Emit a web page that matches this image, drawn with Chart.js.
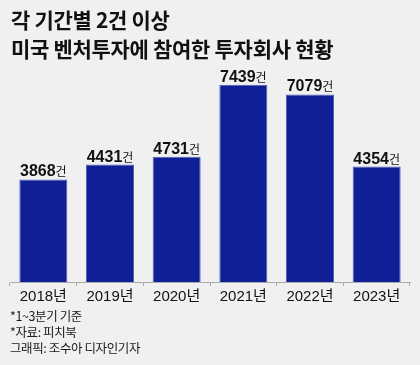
<!DOCTYPE html>
<html>
<head>
<meta charset="utf-8">
<script src="https://cdn.jsdelivr.net/npm/chart.js@4"></script>
<style>
    html, body { margin: 0; padding: 0; background: #f0f0f0; }
    #wrap { position: relative; width: 420px; height: 365px; overflow: hidden; }
    #chart { position: absolute; left: 0; top: 0; }
    .title { position: absolute; left: 11px; font-family: "Noto Sans CJK KR", sans-serif; font-weight: bold; font-size: 21px; color: #111; letter-spacing: -0.3px; line-height: 1; }
    .note { position: absolute; left: 10px; font-family: "Noto Sans CJK KR", sans-serif; font-size: 12.5px; color: #1a1a1a; letter-spacing: -0.4px; line-height: 1; }
</style>
</head>
<body>
<div id="wrap">
    <canvas id="chart" width="420" height="365"></canvas>
    <div class="title" style="top:9px">각 기간별 2건 이상</div>
    <div class="title" style="top:38px">미국 벤처투자에 참여한 투자회사 현황</div>
    <div class="note" style="top:310px">*1~3분기 기준</div>
    <div class="note" style="top:326px">*자료: 피치북</div>
    <div class="note" style="top:342px">그래픽: 조수아 디자인기자</div>
</div>
<script>
var years = ['2018년', '2019년', '2020년', '2021년', '2022년', '2023년'];
var counts = [3868, 4431, 4731, 7439, 7079, 4354];
var unit = '건';

// 막대 위 값 표시 (숫자 굵게 + '건' 작게)
var valueLabels = {
    id: 'valueLabels',
    afterDatasetsDraw: function (chart) {
        var ctx = chart.ctx;
        var meta = chart.getDatasetMeta(0);
        ctx.save();
        ctx.fillStyle = '#111';
        ctx.textBaseline = 'alphabetic';
        for (var i = 0; i < meta.data.length; i++) {
            var bar = meta.data[i];
            var num = String(counts[i]);
            ctx.font = 'bold 16px "Liberation Sans Narrow", "Liberation Sans", sans-serif';
            var w1 = ctx.measureText(num).width;
            ctx.font = '12px "Noto Sans CJK KR", sans-serif';
            var w2 = ctx.measureText(unit).width;
            var x0 = bar.x - (w1 + w2) / 2;
            var y = bar.y - 3;
            ctx.font = 'bold 16px "Liberation Sans Narrow", "Liberation Sans", sans-serif';
            ctx.fillText(num, x0, y);
            ctx.font = '12px "Noto Sans CJK KR", sans-serif';
            ctx.fillText(unit, x0 + w1, y);
        }
        ctx.restore();
    }
};

var ctx = document.getElementById('chart');
var chart = new Chart(ctx, {
    type: 'bar',
    data: {
        labels: years,
        datasets: [{
            data: counts,
            backgroundColor: '#0f1f96',
            borderColor: '#5060b8',
            borderWidth: 1,
            barPercentage: 0.72,
            categoryPercentage: 1
        }]
    },
    options: {
        responsive: false,
        animation: false,
        layout: { padding: { top: 70, left: 10, right: 10, bottom: 0 } },
        plugins: { legend: { display: false }, tooltip: { enabled: false } },
        scales: {
            y: { display: false, min: 0, max: 8000 },
            x: {
                afterFit: function (scale) { scale.height = 83; },
                grid: { drawOnChartArea: false, drawTicks: true, tickLength: 4, color: '#aaa', offset: true },
                border: { color: '#aaa' },
                ticks: {
                    padding: 2,
                    color: '#111',
                    font: { family: '"Liberation Sans", "Noto Sans CJK KR", sans-serif', size: 15 }
                }
            }
        }
    },
    plugins: [valueLabels]
});
</script>
</body>
</html>
